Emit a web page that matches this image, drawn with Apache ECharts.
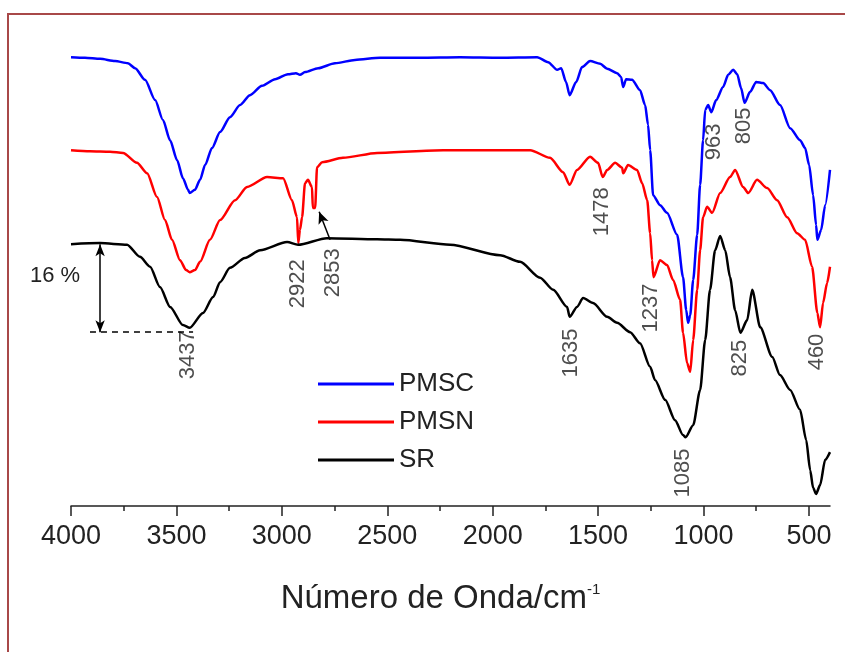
<!DOCTYPE html>
<html>
<head>
<meta charset="utf-8">
<script src="https://cdn.jsdelivr.net/npm/echarts@6/dist/echarts.min.js"></script>
<style>
  html, body { margin: 0; padding: 0; background: #fff; }
  #chart { width: 845px; height: 652px; }
</style>
</head>
<body>
<div id="chart"></div>
<script>
// espectros FTIR: [numero de onda (cm-1), transmitancia relativa (%)]
const pmsc = [[4000,81.6],[3934,81.5],[3862,81.3],[3791,80.9],[3730,80.5],[3696,79.6],[3649,77.5],[3601,73.8],[3564,70.2],[3530,66.5],[3497,62.9],[3469,59.6],[3445,57.5],[3437,56.9],[3412,57.5],[3388,59.3],[3364,62.0],[3331,65.1],[3293,68.0],[3246,70.7],[3198,72.9],[3151,74.7],[3094,76.4],[3032,77.6],[2971,78.5],[2933,78.7],[2914,78.4],[2890,78.9],[2828,79.6],[2748,80.5],[2653,81.1],[2534,81.5],[2344,81.5],[2155,81.6],[1965,81.5],[1789,81.6],[1737,80.7],[1694,79.3],[1675,79.6],[1652,77.1],[1635,74.7],[1604,77.1],[1576,79.8],[1538,80.9],[1490,80.4],[1457,79.5],[1410,78.7],[1391,78.0],[1381,76.2],[1367,77.6],[1339,77.5],[1301,75.6],[1277,72.9],[1263,69.3],[1253,64.7],[1239,56.5],[1206,54.7],[1173,53.3],[1125,49.3],[1097,41.6],[1082,35.6],[1073,33.3],[1063,34.7],[1049,41.1],[1030,49.3],[1016,58.4],[1002,66.5],[992,72.0],[978,72.9],[963,71.6],[940,73.8],[907,76.2],[883,78.4],[859,79.3],[840,78.5],[822,76.0],[805,73.3],[779,75.3],[750,77.1],[717,76.9],[684,75.6],[637,72.9],[589,68.7],[542,66.5],[518,65.1],[499,62.0],[480,56.5],[466,51.1],[460,48.4],[442,50.2],[423,54.7],[400,61.1]];

const pmsn = [[4000,64.7],[3910,64.5],[3815,64.4],[3753,64.2],[3687,62.4],[3639,60.5],[3592,56.2],[3554,52.0],[3521,48.4],[3483,44.7],[3454,42.9],[3437,42.5],[3412,42.9],[3388,44.4],[3341,48.4],[3293,52.0],[3222,55.6],[3165,58.0],[3070,59.8],[2994,59.6],[2952,55.6],[2928,52.5],[2922,47.8],[2914,50.2],[2904,52.5],[2890,58.7],[2876,59.3],[2857,58.0],[2853,54.2],[2842,54.2],[2833,61.6],[2809,62.5],[2710,63.3],[2548,64.2],[2235,64.7],[1822,64.7],[1728,63.3],[1666,60.7],[1635,58.4],[1600,61.1],[1538,63.5],[1500,62.4],[1478,59.8],[1457,61.1],[1419,62.4],[1386,61.5],[1381,60.5],[1358,62.0],[1315,61.1],[1291,58.7],[1267,55.6],[1253,49.6],[1244,44.7],[1237,41.6],[1206,44.7],[1173,43.8],[1144,41.1],[1111,37.5],[1097,31.5],[1078,26.0],[1063,24.4],[1049,30.2],[1030,39.3],[1016,46.5],[1002,52.5],[983,54.4],[959,53.3],[921,56.9],[874,59.8],[850,61.1],[812,58.0],[788,56.9],[746,59.3],[698,57.8],[651,55.6],[603,52.5],[556,49.6],[518,48.4],[485,43.5],[460,35.1],[447,32.5],[433,36.9],[414,40.5],[400,43.5]];

const sr = [[4000,47.6],[3862,47.8],[3734,47.5],[3673,45.3],[3625,43.5],[3578,39.8],[3530,36.2],[3469,32.9],[3437,32.4],[3374,35.1],[3326,38.0],[3293,40.7],[3246,43.3],[3175,45.1],[3103,46.5],[2975,48.0],[2923,47.5],[2786,48.7],[2548,48.5],[2439,48.4],[2202,47.5],[1965,45.6],[1870,44.4],[1775,41.5],[1713,39.3],[1647,36.2],[1635,34.4],[1600,36.2],[1571,37.8],[1524,36.9],[1457,34.4],[1410,33.3],[1348,31.6],[1301,29.6],[1253,25.3],[1230,22.9],[1182,19.3],[1135,15.6],[1097,12.9],[1085,12.5],[1049,14.7],[1016,21.1],[992,30.2],[969,39.3],[945,46.5],[921,49.1],[897,46.5],[874,41.6],[850,35.6],[825,31.5],[793,33.8],[769,39.3],[731,32.5],[674,27.1],[637,23.8],[589,21.1],[542,17.5],[513,12.0],[494,6.5],[480,3.3],[466,2.2],[447,3.8],[423,8.4],[400,9.8]];

// rotulos das bandas: [texto, numero de onda, transmitancia] (centro do rotulo)
const bandLabels = [["3437",3445,27.5],["2922",2923,40.4],["2853",2757,42.4],["1635",1628,27.8],["1478",1481,53.5],["1237",1248,36.0],["1085",1097,6.0],["963",950,66.2],["805",807,69.1],["825",826,26.9],["460",461,28.0]];

const majorTicks = [4000, 3500, 3000, 2500, 2000, 1500, 1000, 500];
const minorTicks = [3750, 3250, 2750, 2250, 1750, 1250, 750];

// barra de escala de 16 %
const scaleBar = { wn: 3862, top: 47.6, bottom: 31.6, dashFrom: 3910, dashTo: 3421 };
const arrow2853 = { from: [2771, 48.4], to: [2823, 53.5] };

var chart = echarts.init(document.getElementById("chart"));
var font = "Liberation Sans";

function lineSeries(name, data, color) {
  return {
    name: name,
    type: "line",
    data: data,
    showSymbol: false,
    symbol: "none",
    smooth: 0.25,
    smoothMonotone: "x",
    lineStyle: { color: color, width: 2.5 },
    itemStyle: { color: color }
  };
}

var srSeries = lineSeries("SR", sr, "#000000");
srSeries.markLine = {
  silent: true,
  animation: false,
  label: { show: false },
  data: [
    [
      { coord: [scaleBar.wn, scaleBar.top], symbol: "arrow", symbolSize: [7, 12], lineStyle: { color: "#000", width: 1.5, type: "solid" } },
      { coord: [scaleBar.wn, scaleBar.bottom], symbol: "arrow", symbolSize: [7, 12] }
    ],
    [
      { coord: [scaleBar.dashFrom, scaleBar.bottom], symbol: "none", lineStyle: { color: "#000", width: 1.5, type: [6, 5] } },
      { coord: [scaleBar.dashTo, scaleBar.bottom], symbol: "none" }
    ],
    [
      { coord: arrow2853.from, symbol: "none", lineStyle: { color: "#000", width: 1.5, type: "solid" } },
      { coord: arrow2853.to, symbol: "arrow", symbolSize: [8, 12] }
    ]
  ]
};

chart.setOption({
  animation: false,
  grid: { left: 71, right: 15, top: 44, bottom: 146 },
  legend: {
    data: ["PMSC", "PMSN", "SR"],
    orient: "vertical",
    left: 313,
    top: 366,
    icon: "rect",
    itemWidth: 76,
    itemHeight: 3,
    itemGap: 12,
    textStyle: { fontFamily: font, fontSize: 26, lineHeight: 26, color: "#222" }
  },
  xAxis: [
    {
      type: "value",
      min: 400,
      max: 4000,
      inverse: true,
      splitLine: { show: false },
      axisLine: { onZero: false, lineStyle: { color: "#222", width: 1.5 } },
      axisTick: { length: 10, customValues: majorTicks, lineStyle: { color: "#222", width: 1.5 } },
      axisLabel: {
        customValues: majorTicks,
        margin: 17,
        fontFamily: font,
        fontSize: 27,
        color: "#222",
        formatter: function (v) { return String(v); }
      },
      name: "{a|Número de Onda/cm}{b|-1}",
      nameLocation: "middle",
      nameGap: 76,
      nameTextStyle: {
        padding: [0, 20, 0, 0],
        rich: {
          a: { fontFamily: font, fontSize: 33, color: "#222" },
          b: { fontFamily: font, fontSize: 15, color: "#222", verticalAlign: "top" }
        }
      }
    },
    {
      type: "value",
      min: 400,
      max: 4000,
      inverse: true,
      position: "bottom",
      splitLine: { show: false },
      axisLine: { show: false },
      axisTick: { length: 5, customValues: minorTicks, lineStyle: { color: "#222", width: 1.5 } },
      axisLabel: { show: false }
    }
  ],
  yAxis: {
    type: "value",
    min: 0,
    max: 84,
    show: false
  },
  graphic: [
    {
      type: "rect",
      shape: { x: 8, y: 14, width: 900, height: 700 },
      style: { fill: "none", stroke: "#a84848", lineWidth: 2 }
    },
    {
      type: "text",
      left: 30,
      top: 265,
      style: { text: "16 %", fontFamily: font, fontSize: 22, fill: "#222" }
    }
  ],
  series: [
    lineSeries("PMSC", pmsc, "#0000ff"),
    lineSeries("PMSN", pmsn, "#ff0000"),
    srSeries,
    {
      name: "bandas",
      type: "scatter",
      symbolSize: 1,
      itemStyle: { color: "rgba(0,0,0,0)" },
      silent: true,
      data: bandLabels.map(function (b) { return { name: b[0], value: [b[1], b[2]] }; }),
      label: {
        show: true,
        position: "inside",
        rotate: 90,
        formatter: "{b}",
        fontFamily: font,
        fontSize: 22,
        color: "#222"
      }
    }
  ]
});
</script>
</body>
</html>
